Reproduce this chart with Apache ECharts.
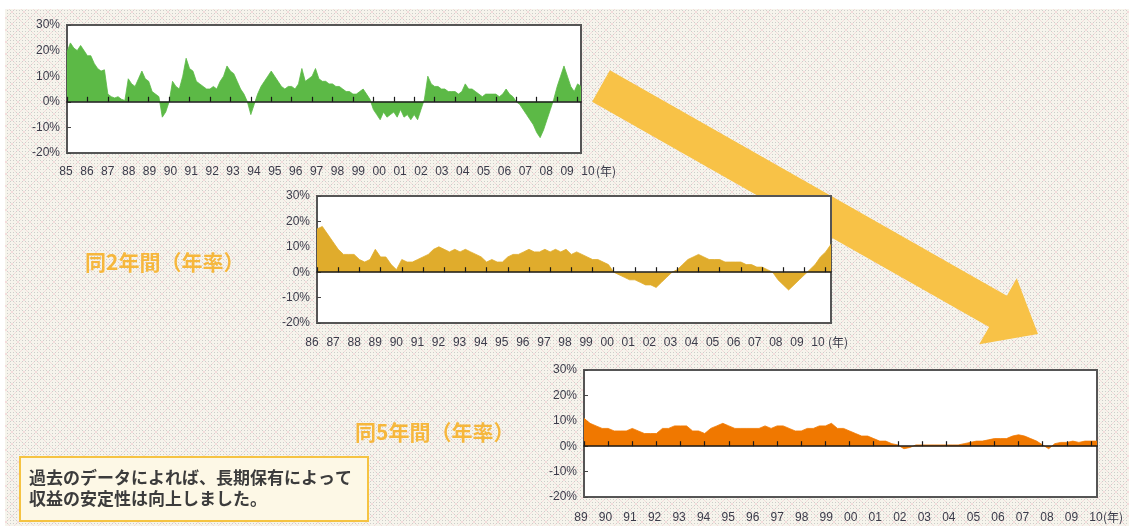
<!DOCTYPE html>
<html><head><meta charset="utf-8">
<script src="https://cdn.jsdelivr.net/npm/echarts/dist/echarts.min.js"></script>
<style>html,body{margin:0;padding:0;background:#fff}#c{width:1129px;height:526px}</style>
</head><body><div id="c"></div>
<script>
// 1-year returns (%), every 2 months, Jan 1985 - Mar 2010
const ret1y = [
  19.5, 23, 21, 20, 22, 20,
  18, 18, 15, 13, 12, 12.5,
  3, 2, 1.5, 2, 1, 0.5,
  9, 7, 6, 9, 12, 9,
  8, 4, 3, 2, -6, -4,
  0, 8, 6, 5, 10, 17,
  13, 12, 8, 7, 6, 5,
  5, 6, 5, 8, 10, 14,
  12, 11, 8, 5, 3, 0,
  -5, -1, 3, 6, 8, 10,
  12, 10, 8, 6, 5, 6,
  6, 5, 7, 13, 8, 9,
  10, 13, 9, 8, 8, 7,
  7, 6, 6, 5, 4, 4,
  3, 3, 4, 5, 3, 1,
  -3, -5, -7, -4, -6, -5,
  -4, -6, -3, -6, -5, -7,
  -5, -7, -3, 1, 10, 7,
  6, 6, 5, 5, 4, 4,
  4, 3, 4, 7, 5, 5,
  4, 3, 2, 3, 3, 3,
  3, 2, 3, 5, 3, 2,
  0, -1, -3, -5, -7, -9,
  -12, -14, -11, -7, -3, 1,
  6, 10, 14, 10, 6, 4,
  7, 6
];
// 2-year annualised returns (%), quarterly, 1986 Q1 - 2010 Q2
const ret2y = [
  17, 18, 15, 12,  9, 7, 7, 7,  5, 4, 5, 9,  6, 6, 3, 1,  5, 4, 4, 5,
  6, 7, 9, 10,  9, 8, 9, 8,  9, 8, 7, 6,  4, 5, 4, 4,  6, 7, 7, 8,
  9, 8, 8, 9,  8, 9, 8, 9,  7, 8, 7, 6,  5, 5, 4, 3,  0, -1, -2, -3,
  -3, -4, -5, -5,  -6, -4, -2, 0,  1, 3, 5, 6,  7, 6, 5, 5,  5, 4, 4, 4,
  4, 3, 3, 2,  2, 1, 0, -3,  -5, -7, -5, -3,  -1, 1, 3, 6,  8, 11
];
// 5-year annualised returns (%), quarterly, 1989 Q1 - 2010 Q2
const ret5y = [
  11, 9, 8, 7,  7, 6, 6, 6,  7, 6, 5, 5,  5, 7, 7, 8,  8, 8, 6, 6,
  5, 7, 8, 9,  8, 7, 7, 7,  7, 7, 8, 7,  8, 8, 7, 6,  6, 7, 7, 8,
  8, 9, 7, 7,  6, 5, 4, 4,  3, 2, 2, 1,  0.5, -1, -0.5, 0.5,  0.5, 0.5, 0.5, 0.5,
  0.5, 0.5, 0.5, 1,  1.5, 2, 2, 2.5,  3, 3, 3, 4,  4.5, 4, 3, 2,  0.5, -1, 1, 1.5,
  1.5, 2, 1.5, 2,  2, 2
];
const labels1 = ['85','86','87','88','89','90','91','92','93','94','95','96','97','98','99','00','01','02','03','04','05','06','07','08','09','10'];
const labels2 = ['86','87','88','89','90','91','92','93','94','95','96','97','98','99','00','01','02','03','04','05','06','07','08','09','10'];
const labels3 = ['89','90','91','92','93','94','95','96','97','98','99','00','01','02','03','04','05','06','07','08','09','10'];
const yearUnit = '(年)';
const title2 = '同2年間（年率）';
const title5 = '同5年間（年率）';
const noteLines = ['過去のデータによれば、長期保有によって', '収益の安定性は向上しました。'];

function periods(startYear, stepMonths, n) {
  const a = [];
  for (let i = 0; i < n; i++) {
    const m = i * stepMonths;
    a.push((startYear + Math.floor(m / 12)) + '/' + (m % 12 + 1));
  }
  return a;
}
const cat1 = periods(1985, 2, ret1y.length);
const cat2 = periods(1986, 3, ret2y.length);
const cat3 = periods(1989, 3, ret5y.length);

// background texture
function makePattern() {
  const c = document.createElement('canvas');
  c.width = 12; c.height = 12;
  const g = c.getContext('2d');
  g.fillStyle = '#f6f4ec'; g.fillRect(0, 0, 12, 12);
  g.fillStyle = '#f4dcdc';
  for (let i = 0; i < 12; i++) { g.fillRect(i, i, 1, 1); g.fillRect(11 - i, i, 1, 1); }
  g.fillStyle = '#cdcdca';
  for (let x = 1; x < 12; x += 3) for (let y = 1; y < 12; y += 3) g.fillRect(x, y, 1, 1);
  return c;
}

const AX = '#3b3b4a';
const FONT = '"Liberation Sans", Arial, sans-serif';
const JFONT = '"Noto Sans CJK JP", sans-serif';

const dataGrids = [
  {left: 67, top: 25, width: 514, height: 128},
  {left: 317, top: 196, width: 514, height: 127},
  {left: 584, top: 370, width: 513, height: 127}
];
const labelGrids = [
  {left: 66, top: 171, width: 522, height: 1},
  {left: 312, top: 342, width: 506, height: 1},
  {left: 581, top: 517, width: 515, height: 1}
];
const cats = [cat1, cat2, cat3];
const tickIntervals = [5, 3, 3];
const series = [ret1y, ret2y, ret5y];
const colors = ['#5cb946', '#e0ac2c', '#f07800'];
const labelSets = [labels1, labels2, labels3];

const grid = [], xAxis = [], yAxis = [], ser = [];
dataGrids.forEach((g, i) => {
  grid.push(Object.assign({show: true, backgroundColor: '#ffffff', borderColor: '#555', borderWidth: 2, z: 1}, g));
  xAxis.push({
    type: 'category', gridIndex: i, data: cats[i], boundaryGap: false, z: 3,
    axisLine: {onZero: true, lineStyle: {color: '#1a1a1a', width: 1.6}},
    axisTick: {show: true, inside: true, interval: tickIntervals[i], length: 5, lineStyle: {color: '#1a1a1a', width: 1.2}},
    axisLabel: {show: false}, splitLine: {show: false}
  });
  yAxis.push({
    type: 'value', gridIndex: i, min: -20, max: 30, interval: 10, z: 1.5,
    axisLine: {show: false},
    axisTick: {show: true, inside: true, length: 4, lineStyle: {color: '#444'}},
    axisLabel: {formatter: '{value}%', margin: 7, color: AX, fontSize: 12, fontFamily: FONT},
    splitLine: {show: false}
  });
  ser.push({
    type: 'line', xAxisIndex: i, yAxisIndex: i, data: series[i], symbol: 'none', z: 2,
    lineStyle: {width: 0.8, color: colors[i]}, areaStyle: {color: colors[i], opacity: 1},
    silent: true, animation: false
  });
});
labelGrids.forEach((g, i) => {
  grid.push(Object.assign({show: false}, g));
  xAxis.push({
    type: 'category', gridIndex: 3 + i, data: labelSets[i], boundaryGap: false,
    axisLine: {show: false}, axisTick: {show: false},
    axisLabel: {interval: 0, margin: 0, verticalAlign: 'middle', color: AX, fontSize: 12, fontFamily: FONT}
  });
  yAxis.push({type: 'value', gridIndex: 3 + i, show: false});
});

// arrow geometry (decoration)
const S = [601, 86], T = [1038, 334];
const len = Math.hypot(T[0] - S[0], T[1] - S[1]);
const d = [(T[0] - S[0]) / len, (T[1] - S[1]) / len];
const n = [-d[1], d[0]];
const headLen = 46, shaftHW = 18, headHW = 38;
const B = [T[0] - headLen * d[0], T[1] - headLen * d[1]];
const P = (p, k) => [p[0] + k * n[0], p[1] + k * n[1]];
const arrowPts = [P(S, -shaftHW), P(B, -shaftHW), P(B, -headHW), T, P(B, headHW), P(B, shaftHW), P(S, shaftHW)];

const chart = echarts.init(document.getElementById('c'), null, {renderer: 'canvas'});
chart.setOption({
  animation: false,
  backgroundColor: '#ffffff',
  grid, xAxis, yAxis, series: ser,
  graphic: [
    {type: 'rect', z: -10, silent: true, shape: {x: 5, y: 9, width: 1124, height: 517},
      style: {fill: {image: makePattern(), repeat: 'repeat'}}},
    {type: 'polygon', z: -5, silent: true, shape: {points: arrowPts}, style: {fill: '#f8c247'}},
    {type: 'text', z: 10, left: 596, top: 165, style: {text: yearUnit, fill: AX, font: '12px ' + JFONT}},
    {type: 'text', z: 10, left: 828, top: 336, style: {text: yearUnit, fill: AX, font: '12px ' + JFONT}},
    {type: 'text', z: 10, left: 1103, top: 511, style: {text: yearUnit, fill: AX, font: '12px ' + JFONT}},
    {type: 'text', z: 10, left: 85, top: 252, style: {text: title2, fill: '#f6b73c', font: 'bold 21px ' + JFONT}},
    {type: 'text', z: 10, left: 355, top: 422, style: {text: title5, fill: '#f6b73c', font: 'bold 21px ' + JFONT}},
    {type: 'rect', z: 9, silent: true, shape: {x: 20, y: 457, width: 348, height: 64},
      style: {fill: '#fdf8e6', stroke: '#f5c342', lineWidth: 2}},
    {type: 'text', z: 10, left: 29, top: 469, style: {text: noteLines[0], fill: '#3c3c3c', font: 'bold 17px ' + JFONT}},
    {type: 'text', z: 10, left: 29, top: 490, style: {text: noteLines[1], fill: '#3c3c3c', font: 'bold 17px ' + JFONT}}
  ]
});
</script></body></html>
